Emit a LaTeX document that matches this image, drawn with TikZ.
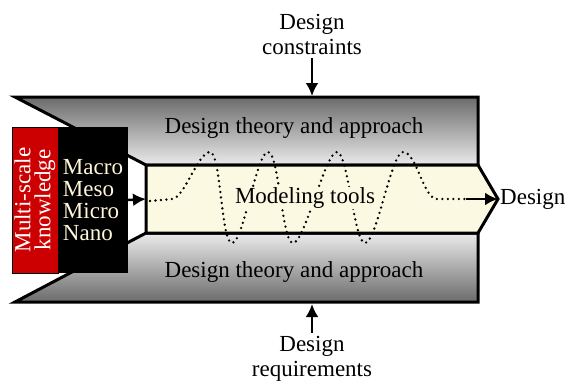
\documentclass[tikz,border=0pt]{standalone}
\usepackage{fontspec}
\setmainfont{Liberation Serif}
\usetikzlibrary{arrows.meta,positioning}
\definecolor{knowred}{HTML}{CC0000}
\definecolor{bandcream}{HTML}{FCF9E3}
\definecolor{scalecream}{HTML}{FFF6D8}
\begin{document}
\begin{tikzpicture}[x=1pt, y=-1pt, font=\fontsize{23}{22}\selectfont, >={Latex[length=13pt,width=13pt]}]
        \useasboundingbox (0,0) rectangle (569,384);

        % Funnel walls (dark outside, light towards the band)
        \draw[line width=3pt, top color=black!58, bottom color=black!8] (15,97) -- (478,97) -- (478,165) -- (146,165) -- cycle;
        \draw[line width=3pt, top color=black!8, bottom color=black!58] (146,233) -- (478,233) -- (478,302) -- (15,302) -- cycle;
        \foreach \y/\pos in {128/top, 272/bottom} {
            \node (theory\pos) at (294,\y) {Design theory and approach};
        }

        % Central band
        \draw[line width=3pt, fill=bandcream] (146,165) -- (478,165) -- (498,199) -- (478,233) -- (146,233) -- cycle;
        \coordinate (bandin) at (146,199);
        \coordinate (bandtip) at (498,199);
        \coordinate (wavend) at (466,199);

        % Dotted design path
        \draw[dash pattern=on 0pt off 5.5pt, line cap=round, line width=2.6pt, looseness=0.3] (150,201) -- (172,199)
            to[out=0, in=180, looseness=0.5] (210,152) to[out=0, in=180] (232,243)
            to[out=0, in=180] (268,152) to[out=0, in=180] (293,243)
            to[out=0, in=180] (337,152) to[out=0, in=180] (365,243)
            to[out=0, in=180] (403,152) to[out=0, in=180, looseness=0.6] (437,199) -- (wavend);
        \node[fill=bandcream, inner sep=1pt] (tools) at (305,198) {Modeling tools};
        \draw[->, line width=2.5pt] (wavend) -- (bandtip);
        \node[anchor=west, inner sep=2pt] (design) at (bandtip) {Design};

        % Multi-scale knowledge input
        \node[draw=black, line width=1pt, fill=knowred, text=white, rotate=90, align=center, font=\fontsize{23}{20}\selectfont,
              minimum width=146, minimum height=46, inner sep=0pt] (knowledge) at (35,200) {Multi-scale\\knowledge};
        \node[fill=black, text=scalecream, align=left, minimum width=70, minimum height=146, inner sep=0pt] (scales) at (93,200) {Macro\\Meso\\Micro\\Nano};
        \draw[->, line width=2.5pt] (scales.east) -- (bandin);

        % Constraints and requirements
        \node[align=center, font=\fontsize{23}{25}\selectfont] (constraints) at (312,34) {Design\\constraints};
        \coordinate (topwall) at (312,96);
        \draw[->, line width=2.5pt] (constraints) -- (topwall);

        \node[align=center, font=\fontsize{23}{25}\selectfont] (requirements) at (312,359) {Design\\requirements};
        \coordinate (bottomwall) at (312,304);
        \draw[->, line width=2.5pt] (requirements) -- (bottomwall);

    \end{tikzpicture}
\end{document}
